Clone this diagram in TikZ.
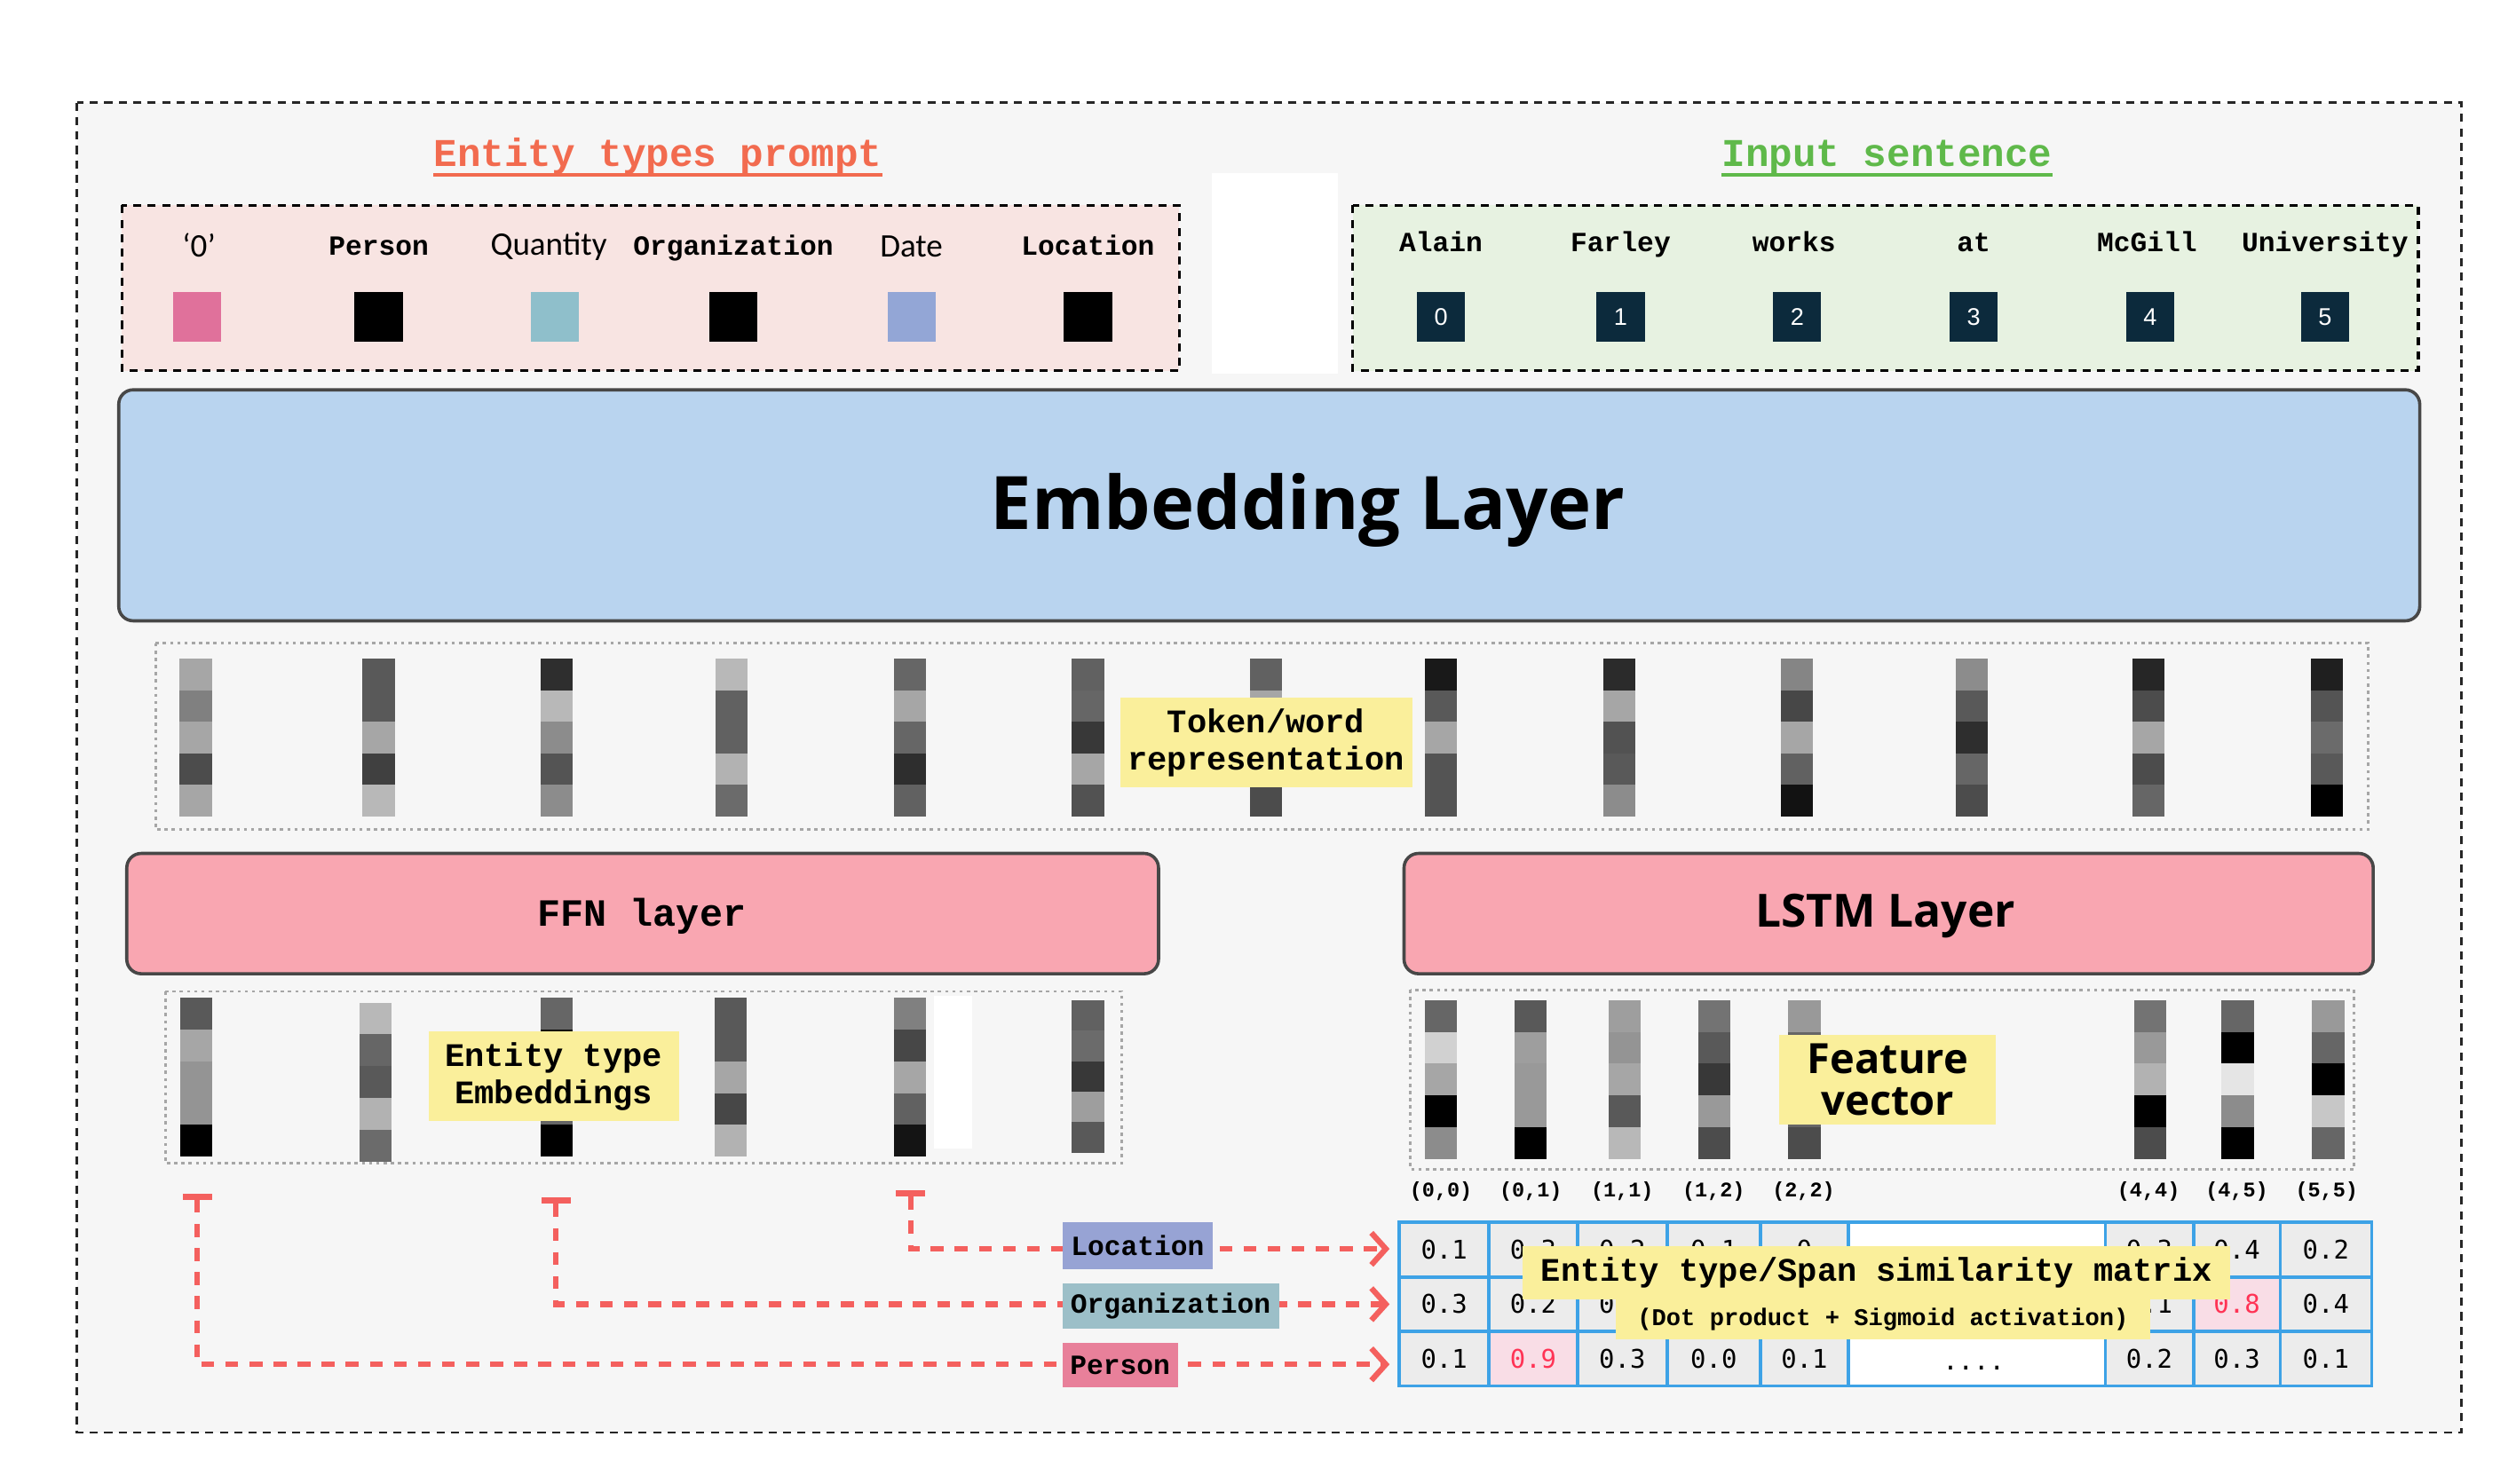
\documentclass[tikz,border=0pt]{standalone}
\usepackage{fontspec}
\setmainfont{Liberation Sans}
\newfontfamily\monof{Liberation Mono}
\newfontfamily\opsf{Open Sans}
\newfontfamily\carf{Carlito}
\newfontfamily\djm{DejaVu Sans Mono}
\usetikzlibrary{arrows.meta}
\definecolor{bggray}{HTML}{F6F6F6}
\definecolor{titred}{HTML}{F26B4F}
\definecolor{titgreen}{HTML}{5FB94A}
\definecolor{pinkbg}{HTML}{F8E4E2}
\definecolor{greenbg}{HTML}{E7F2E1}
\definecolor{embblue}{HTML}{B9D4EF}
\definecolor{layerpink}{HTML}{F9A6B1}
\definecolor{ylw}{HTML}{FAEF9B}
\definecolor{navy}{HTML}{0C2A3C}
\definecolor{sqpink}{HTML}{E0719B}
\definecolor{sqblue}{HTML}{8FBFCB}
\definecolor{sqlav}{HTML}{93A6D6}
\definecolor{mblue}{HTML}{3DA2E6}
\definecolor{cellgray}{HTML}{ECECEC}
\definecolor{cellpink}{HTML}{F9DDE6}
\definecolor{numred}{HTML}{FF3355}
\definecolor{arrred}{HTML}{F4605E}
\definecolor{labpink}{HTML}{E8809A}
\definecolor{labteal}{HTML}{9CBFC8}
\definecolor{lablav}{HTML}{97A3D4}
\newcommand\mkbar[5]{%
  \foreach \g [count=\i from 0] in {#5}{%
    \fill[white!\g!black] ({#1-#4/2},{#2+\i*#3}) rectangle ({#1+#4/2},{#2+(\i+1)*#3});
  }}
\tikzset{
  dashbox/.style={draw=black, dash pattern=on 5pt off 4pt, line width=2pt},
  dotbox/.style={draw=black!35, dash pattern=on 2pt off 2.5pt, line width=1.5pt},
  layerbox/.style={draw=black!72, line width=2pt, rounded corners=9pt, inner sep=0pt},
  ylab/.style={fill=ylw, inner sep=0pt, align=center},
  sq/.style={minimum width=30pt, minimum height=31pt, inner sep=0pt},
  numsq/.style={sq, fill=navy, text=white, font=\fontsize{15}{17}\selectfont},
  toplab/.style={anchor=base, inner sep=0pt},
  monolab/.style={toplab, font=\monof\bfseries\fontsize{17.3}{20}\selectfont},
  carlab/.style={toplab, font=\carf\fontsize{20.5}{24}\selectfont},
  spanlab/.style={inner sep=0pt, font=\monof\bfseries\fontsize{13}{15}\selectfont},
  mnum/.style={inner sep=0pt, font=\djm\fontsize{16}{18}\selectfont},
  rdash/.style={draw=arrred, line width=3.5pt, dash pattern=on 8pt off 7pt},
  rtip/.style={-{Straight Barb[length=9pt,width=20pt,line width=3.5pt]}},
  arrlab/.style={inner sep=0pt, minimum height=28pt, font=\monof\bfseries\fontsize{17.3}{20}\selectfont}
}
\begin{document}
\begin{tikzpicture}[x=1pt,y=-1pt]
\useasboundingbox (0,0) rectangle (1568,925);
\fill[white] (0,0) rectangle (1568,925);
\draw[fill=bggray, draw=black!85, line width=1.5pt, dash pattern=on 5pt off 4pt] (48,64) rectangle (1534,893);

% titles
\node[toplab, text=titred, font=\monof\bfseries\fontsize{24.5}{28}\selectfont] (tEnt) at (410,104) {Entity types prompt};
\draw[titred, line width=2.5pt] ([yshift=-5pt]tEnt.base west) -- ([yshift=-5pt]tEnt.base east);
\node[toplab, text=titgreen, font=\monof\bfseries\fontsize{24.5}{28}\selectfont] (tInp) at (1176,104) {Input sentence};
\draw[titgreen, line width=2.5pt] ([yshift=-5pt]tInp.base west) -- ([yshift=-5pt]tInp.base east);

% entity types prompt box
\draw[dashbox, fill=pinkbg] (76,128) rectangle (735,231);
\node[carlab] (l0) at (124,160) {‘0’};
\node[monolab] (l1) at (236,159) {Person};
\node[carlab] (l2) at (342,159) {Quantity};
\node[monolab] (l3) at (457,159) {Organization};
\node[carlab] (l4) at (568,160) {Date};
\node[monolab] (l5) at (678,159) {Location};
\node[sq, fill=sqpink] (s0) at (123,197.5) {};
\node[sq, fill=black] (s1) at (236,197.5) {};
\node[sq, fill=sqblue] (s2) at (346,197.5) {};
\node[sq, fill=black] (s3) at (457,197.5) {};
\node[sq, fill=sqlav] (s4) at (568,197.5) {};
\node[sq, fill=black] (s5) at (678,197.5) {};

% white gap
\fill[white] (755,108) rectangle (834,233);

% input sentence box
\draw[dashbox, fill=greenbg] (843,128) rectangle (1507,231);
\node[monolab] (w0) at (898,157) {Alain};
\node[monolab] (w1) at (1010,157) {Farley};
\node[monolab] (w2) at (1118,157) {works};
\node[monolab] (w3) at (1230,157) {at};
\node[monolab] (w4) at (1338,157) {McGill};
\node[monolab] (w5) at (1449,157) {University};
\foreach \x [count=\i from 0] in {898,1010,1120,1230,1340,1449}
  \node[numsq] (n\i) at (\x,197.5) {\i};

% embedding layer
\node[layerbox, fill=embblue, minimum width=1434pt, minimum height=144pt] (emb) at (791,315) {};
\node[inner sep=0pt, font=\opsf\bfseries\fontsize{46}{50}\selectfont] (embt) at (815,318) {Embedding Layer};

% token representation
\draw[dotbox] (97,401) rectangle (1476,517);
\mkbar{122}{410.5}{19.7}{20}{65,50,65,30,65}
\mkbar{236}{410.5}{19.7}{20}{35,35,65,25,72}
\mkbar{347}{410.5}{19.7}{20}{18,72,55,33,55}
\mkbar{456}{410.5}{19.7}{20}{72,38,38,70,42}
\mkbar{567}{410.5}{19.7}{20}{40,65,40,18,38}
\mkbar{678}{410.5}{19.7}{20}{38,40,22,65,32}
\mkbar{789}{410.5}{19.7}{20}{38,65,40,40,30}
\mkbar{898}{410.5}{19.7}{20}{10,35,65,33,33}
\mkbar{1009}{410.5}{19.7}{20}{17,65,32,35,55}
\mkbar{1120}{410.5}{19.7}{20}{52,28,65,38,7}
\mkbar{1229}{410.5}{19.7}{20}{55,35,18,40,30}
\mkbar{1339}{410.5}{19.7}{20}{15,30,65,30,40}
\mkbar{1450}{410.5}{19.7}{20}{12,33,42,35,0}
\node[ylab, minimum width=182pt, minimum height=56pt, font=\monof\bfseries\fontsize{20.5}{23}\selectfont] (tok) at (789,463) {Token/word\\representation};

% FFN and LSTM
\node[layerbox, fill=layerpink, minimum width=643pt, minimum height=75pt] (ffn) at (400.5,569.5) {};
\node[inner sep=0pt, font=\monof\bfseries\fontsize{24}{28}\selectfont] (ffnt) at (400,571) {FFN layer};
\node[layerbox, fill=layerpink, minimum width=604pt, minimum height=75pt] (lstm) at (1177,569.5) {};
\node[inner sep=0pt, font=\opsf\bfseries\fontsize{28.5}{32}\selectfont] (lstmt) at (1175,571) {LSTM Layer};

% entity type embeddings
\draw[dotbox] (103,618) rectangle (699,725);
\mkbar{122.5}{622}{19.8}{20}{35,65,58,58,0}
\mkbar{234}{625}{19.8}{20}{72,40,35,70,42}
\mkbar{347}{622}{19.8}{20}{40,5,40,40,0}
\mkbar{455.5}{622}{19.8}{20}{35,35,65,28,70}
\mkbar{567}{622}{19.8}{20}{50,28,65,38,8}
\mkbar{678}{623.5}{19}{20}{38,42,22,62,35}
\fill[white] (582,621) rectangle (606,716);
\node[ylab, minimum width=156pt, minimum height=56pt, font=\monof\bfseries\fontsize{20.5}{23}\selectfont] (ete) at (345,671) {Entity type\\Embeddings};

% feature vectors
\draw[dotbox] (879,617) rectangle (1467,729);
\mkbar{898}{623.5}{19.8}{20}{40,82,65,0,55}
\mkbar{954}{623.5}{19.8}{20}{35,62,60,60,0}
\mkbar{1012.5}{623.5}{19.8}{20}{62,58,65,35,72}
\mkbar{1068.5}{623.5}{19.8}{20}{45,35,22,60,30}
\mkbar{1124.5}{623.5}{19.8}{20}{60,40,40,40,30}
\mkbar{1340}{623.5}{19.8}{20}{45,60,70,0,30}
\mkbar{1394.5}{623.5}{19.8}{20}{40,0,90,55,0}
\mkbar{1451}{623.5}{19.8}{20}{60,40,0,78,40}
\node[ylab, minimum width=135pt, minimum height=56pt, font=\opsf\bfseries\fontsize{26}{26}\selectfont] (fv) at (1176.5,673) {Feature\\vector};

% span labels
\foreach \x/\t [count=\i] in {898/{(0,0)},954/{(0,1)},1011/{(1,1)},1068/{(1,2)},1124/{(2,2)},1339/{(4,4)},1394/{(4,5)},1450/{(5,5)}}
  \node[spanlab] (sp\i) at (\x,743) {\t};

% similarity matrix
\foreach \xa/\xb in {872/928,928/983,983/1039,1039/1097,1097/1152,1312/1367,1367/1421,1421/1478}
  \fill[cellgray] (\xa,762) rectangle (\xb,864);
\fill[white] (1152,762) rectangle (1312,864);
\fill[cellpink] (928,830) rectangle (983,864);
\fill[cellpink] (1367,796) rectangle (1421,830);
\draw[mblue, line width=2pt] (872,762) rectangle (1478,864);
\foreach \x in {928,983,1039,1097,1152,1312,1367,1421}
  \draw[mblue, line width=2pt] (\x,762) -- (\x,864);
\foreach \y in {796,830}
  \draw[mblue, line width=2pt] (872,\y) -- (1478,\y);
\foreach \x/\v [count=\i] in {900/0.1,955.5/0.3,1011/0.2,1068/0.1,1124.5/0,1339.5/0.3,1394/0.4,1449.5/0.2}
  \node[mnum] (ma\i) at (\x,779) {\v};
\foreach \x/\v [count=\i] in {900/0.3,955.5/0.2,1011/0.1,1339.5/0.1,1449.5/0.4}
  \node[mnum] (mb\i) at (\x,813) {\v};
\node[mnum, text=numred] (mb8) at (1394,813) {0.8};
\foreach \x/\v [count=\i] in {900/0.1,1011/0.3,1068/0.0,1124.5/0.1,1339.5/0.2,1394/0.3,1449.5/0.1}
  \node[mnum] (mc\i) at (\x,847) {\v};
\node[mnum, text=numred] (mc9) at (955.5,847) {0.9};
\node[mnum] (mdots) at (1230,853) {....};
\node[ylab, minimum width=441pt, minimum height=33pt, font=\monof\bfseries\fontsize{20.5}{23}\selectfont] (sim) at (1169.5,793.5) {Entity type/Span similarity matrix};
\node[ylab, minimum width=333pt, minimum height=25pt, font=\monof\bfseries\fontsize{15}{17}\selectfont] (simb) at (1173.5,822.5) {(Dot product + Sigmoid activation)};

% arrows
\coordinate (capP) at (123,746);
\coordinate (capO) at (346.5,748.5);
\coordinate (capL) at (567.5,744);
\coordinate (endL) at (866,778.5);
\coordinate (endO) at (866,813);
\coordinate (endP) at (866,850.5);
\foreach \c in {capP,capO,capL}
  \draw[arrred, line width=4pt] ([xshift=-9pt]\c) -- ([xshift=9pt]\c);
\draw[rdash, rtip] ([yshift=-2pt]capL) |- (endL);
\draw[rdash, rtip] ([yshift=-2pt]capO) |- (endO);
\draw[rdash, rtip] ([yshift=-2pt]capP) |- (endP);
\node[arrlab, fill=lablav, minimum width=94pt, minimum height=29pt] (aLoc) at (709,776.5) {Location};
\node[arrlab, fill=labteal, minimum width=135pt] (aOrg) at (729.5,814) {Organization};
\node[arrlab, fill=labpink, minimum width=72pt] (aPer) at (698,851) {Person};
\end{tikzpicture}
\end{document}
